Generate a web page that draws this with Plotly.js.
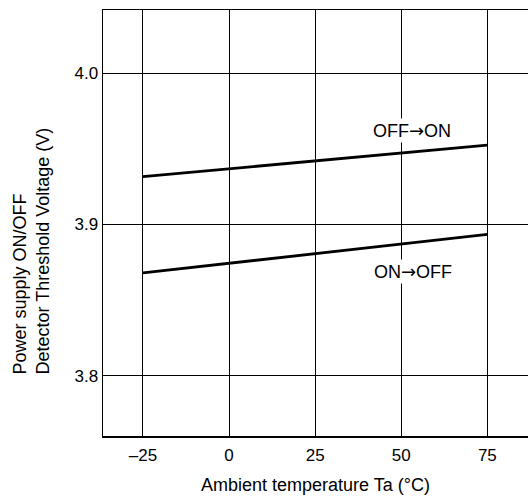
<!DOCTYPE html>
<html>
<head>
<meta charset="utf-8">
<script src="https://cdn.plot.ly/plotly-3.0.1.min.js"></script>
<style>html,body{margin:0;padding:0;background:#fff;}#chart{width:528px;height:498px;}</style>
</head>
<body>
<div id="chart"></div>
<script>
// Data
const temps = [-25, 75];
const offToOn = [3.9317, 3.9525];
const onToOff = [3.868, 3.8934];
const xTickVals = [-25, 0, 25, 50, 75];
const xTickText = ['\u201325', '0', '25', '50', '75'];
const yTickVals = [3.8, 3.9, 4.0];
const yTickText = ['3.8', '3.9', '4.0'];
const ARROW = '<span style="font-family:\'DejaVu Sans\'">\u2192</span>';
const labelOffOn = 'OFF' + ARROW + 'ON';
const labelOnOff = 'ON' + ARROW + 'OFF';

const FONT = '"Liberation Sans", Arial, Helvetica, sans-serif';

const traces = [
  {x: temps, y: offToOn, mode: 'lines', line: {color: '#000', width: 2.8}, showlegend: false, hoverinfo: 'skip'},
  {x: temps, y: onToOff, mode: 'lines', line: {color: '#000', width: 2.8}, showlegend: false, hoverinfo: 'skip'}
];

const layout = {
  width: 528, height: 498,
  margin: {l: 103, r: 0, t: 10, b: 62},
  paper_bgcolor: '#fff', plot_bgcolor: '#fff',
  font: {family: FONT, color: '#000', size: 17},
  xaxis: {
    range: [-36.6, 86.8],
    tickmode: 'array', tickvals: xTickVals, ticktext: xTickText,
    showgrid: true, gridcolor: '#000', gridwidth: 1,
    showline: true, linecolor: '#000', linewidth: 1.5, mirror: true,
    zeroline: false, ticks: '', ticklen: 0, ticklabelstandoff: 3,
    tickfont: {family: FONT, size: 17, color: '#000'},
    title: {text: 'Ambient temperature Ta (\u00b0C)', font: {family: FONT, size: 18, color: '#000'}, standoff: 14}
  },
  yaxis: {
    range: [3.760, 4.042],
    tickmode: 'array', tickvals: yTickVals, ticktext: yTickText,
    showgrid: true, gridcolor: '#000', gridwidth: 1,
    showline: true, linecolor: '#000', linewidth: 1.5, mirror: false,
    zeroline: false, ticks: '', ticklen: 0,
    tickfont: {family: FONT, size: 17, color: '#000'}
  },
  annotations: [
    {x: 53.0, y: 3.962, xref: 'x', yref: 'y', text: labelOffOn, showarrow: false,
     bgcolor: '#fff', font: {family: FONT, size: 18, color: '#000'}, borderpad: 1},
    {x: 53.4, y: 3.869, xref: 'x', yref: 'y', text: labelOnOff, showarrow: false,
     bgcolor: '#fff', font: {family: FONT, size: 18, color: '#000'}, borderpad: 1},
    {x: 30, y: 377, xref: 'paper', yref: 'paper', text: 'Power supply ON/OFF<br>Detector Threshold Voltage (V)',
     showarrow: false, textangle: -90, align: 'left', font: {family: FONT, size: 18, color: '#000'}}
  ]
};

// y title positioned in pixels converted to paper coords
(function(){
  const plotW = 528 - 103, plotH = 498 - 10 - 62;
  const a = layout.annotations[2];
  a.xanchor = 'center'; a.yanchor = 'bottom';
  a.x = (31 - 103) / plotW;
  a.y = (436 - 377) / plotH;
})();

Plotly.newPlot('chart', traces, layout, {displayModeBar: false, staticPlot: true});
</script>
</body>
</html>
